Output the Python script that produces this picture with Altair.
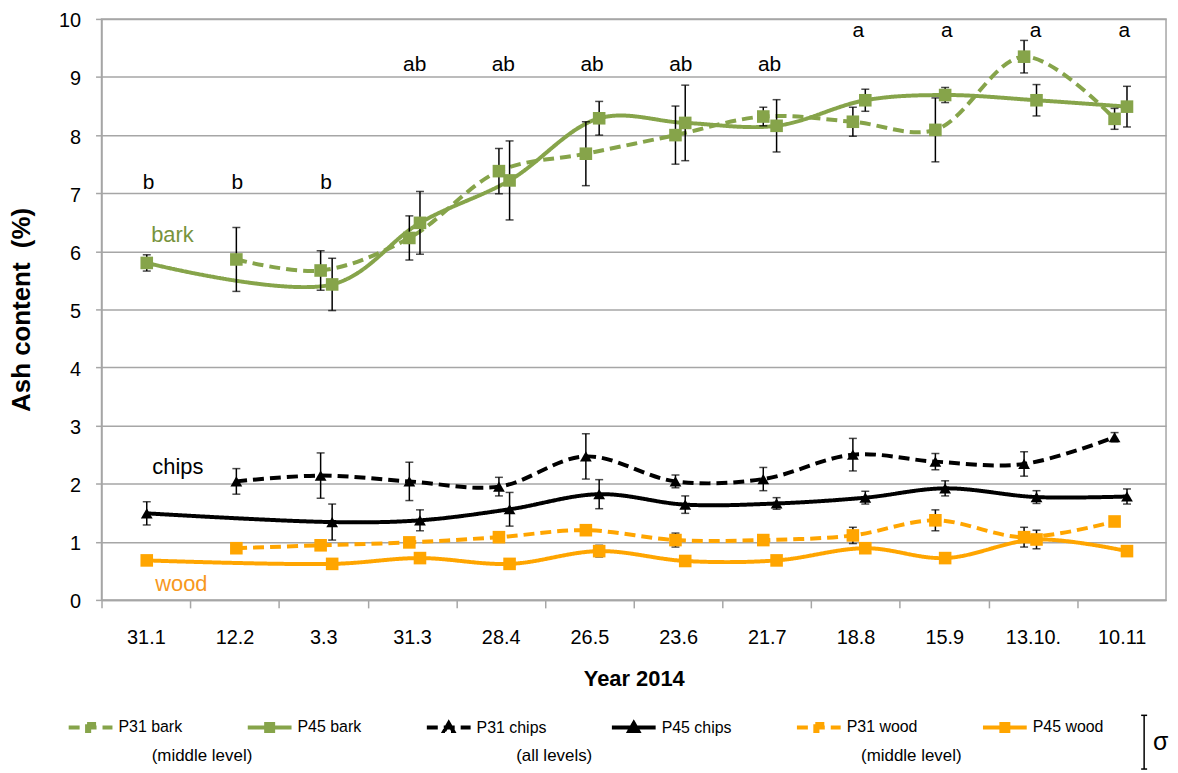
import altair as alt
import pandas as pd

# ---------------- data ----------------
dates = ["31.1", "12.2", "3.3", "31.3", "28.4", "26.5", "23.6", "21.7",
         "18.8", "15.9", "13.10.", "10.11"]
series_names = ["P31 bark", "P45 bark", "P31 chips", "P45 chips", "P31 wood", "P45 wood"]

# sampling positions on the date axis (category units)
p31_pos = [None, 1.52, 2.47, 3.47, 4.48, 5.46, 6.47, 7.46, 8.47, 9.40, 10.40, 11.42]
p45_pos = [0.51, None, 2.60, 3.59, 4.60, 5.61, 6.58, 7.61, 8.61, 9.51, 10.54, 11.56]

p31_bark = [None, 5.86, 5.67, 6.23, 7.38, 7.68, 8.00, 8.32, 8.23, 8.09, 9.35, 8.28]
p31_bark_sd = [None, 0.55, 0.34, 0.38, 0.39, 0.55, 0.50, 0.16, 0.25, 0.55, 0.28, 0.18]
p45_bark = [5.80, None, 5.43, 6.49, 7.22, 8.29, 8.21, 8.16, 8.60, 8.69, 8.60, 8.49]
p45_bark_sd = [0.14, None, 0.45, 0.54, 0.68, 0.29, 0.65, 0.45, 0.19, 0.13, 0.27, 0.35]

p31_chips = [None, 2.04, 2.14, 2.04, 1.95, 2.47, 2.04, 2.08, 2.50, 2.38, 2.34, 2.80]
p31_chips_sd = [None, 0.22, 0.39, 0.33, 0.16, 0.39, 0.11, 0.20, 0.28, 0.14, 0.21, 0.08]
p45_chips = [1.49, None, 1.34, 1.37, 1.56, 1.82, 1.64, 1.66, 1.76, 1.92, 1.77, 1.78]
p45_chips_sd = [0.20, None, 0.31, 0.18, 0.29, 0.25, 0.15, 0.10, 0.11, 0.13, 0.11, 0.13]

p31_wood = [None, 0.89, 0.94, 0.99, 1.08, 1.20, 1.03, 1.03, 1.11, 1.37, 1.08, 1.35]
p31_wood_sd = [None, 0.05, 0.05, 0.05, 0.08, 0.06, 0.12, 0.08, 0.14, 0.18, 0.17, 0.03]
p45_wood = [0.68, None, 0.62, 0.72, 0.62, 0.84, 0.67, 0.68, 0.89, 0.72, 1.04, 0.84]
p45_wood_sd = [0.05, None, 0.05, 0.08, 0.08, 0.10, 0.05, 0.05, 0.05, 0.05, 0.16, 0.05]

sig_letters = ["b", "b", "b", "ab", "ab", "ab", "ab", "ab", "a", "a", "a", "a"]
group_labels = ["bark", "chips", "wood"]
group_notes = ["(middle level)", "(all levels)", "(middle level)"]

# ---------------- styling ----------------
GREEN = "#86A44A"
ORANGE = "#FFA500"
BLACK = "#000000"
GRID = "#A6A6A6"
FONT = "Liberation Sans"
W, H = 1070, 584

series_def = [
    ("P31 bark", p31_pos, p31_bark, p31_bark_sd),
    ("P45 bark", p45_pos, p45_bark, p45_bark_sd),
    ("P31 chips", p31_pos, p31_chips, p31_chips_sd),
    ("P45 chips", p45_pos, p45_chips, p45_chips_sd),
    ("P31 wood", p31_pos, p31_wood, p31_wood_sd),
    ("P45 wood", p45_pos, p45_wood, p45_wood_sd),
]
rows = []
for name, pos, vals, sds in series_def:
    for p, v, s in zip(pos, vals, sds):
        if v is None:
            continue
        rows.append({"series": name, "pos": p, "value": v, "lo": v - s, "hi": v + s,
                     "kind": "chips" if "chips" in name else "sq"})
df = pd.DataFrame(rows)

color_scale = alt.Scale(domain=series_names,
                        range=[GREEN, GREEN, BLACK, BLACK, ORANGE, ORANGE])
dash_scale = alt.Scale(domain=series_names,
                       range=[[11, 6], [1, 0], [11, 6], [1, 0], [11, 6], [1, 0]])
sq_path = "M-1,0H1M-0.16,-0.16H0.16V0.16H-0.16Z"
tri_path = "M-1,0H1M0,-0.2L0.2,0.15H-0.2Z"
shape_scale = alt.Scale(domain=series_names,
                        range=[sq_path, sq_path, tri_path, tri_path, sq_path, sq_path])

label_expr = "[" + ",".join("'%s'" % d for d in dates) + "][floor(datum.value)]"
half_band = W / len(dates) / 2

x_axis = alt.Axis(values=[i + 0.5 for i in range(len(dates))], labelExpr=label_expr,
                  tickOffset=-half_band, labelOffset=half_band, grid=False,
                  tickSize=8, tickColor=GRID, tickWidth=1.5, domainColor=GRID, domainWidth=1.5,
                  labelFont=FONT, labelFontSize=20, labelColor="black", labelPadding=20,
                  labelFlush=False, labelOverlap=False,
                  title="Year 2014", titleFont=FONT, titleFontSize=22, titleFontWeight="bold",
                  titleColor="black", titlePadding=21)
y_axis = alt.Axis(values=list(range(11)), grid=True, gridColor=GRID, gridWidth=1.5,
                  tickSize=6, tickColor=GRID, tickWidth=1.5, domainColor=GRID, domainWidth=1.5,
                  labelFont=FONT, labelFontSize=20, labelColor="black", labelPadding=15,
                  labelOffset=2,
                  title="Ash content\u00a0 (%)", titleFont=FONT, titleFontSize=26,
                  titleFontWeight="bold", titleColor="black", titlePadding=24)


def X(field):
    return alt.X(field + ":Q", scale=alt.Scale(domain=[0, len(dates)], nice=False, zero=False),
                 axis=x_axis)


def Y(field):
    return alt.Y(field + ":Q", scale=alt.Scale(domain=[0, 10], nice=False, zero=False),
                 axis=y_axis)


base = alt.Chart(df)

# legend-only layer (invisible points, merged legend with line + marker symbols)
leg_props = dict(orient="none", legendX=-35, legendY=688, direction="horizontal", columns=6,
                 columnPadding=57, title=None, labelFont=FONT, labelFontSize=16,
                 labelColor="black", labelOffset=4, symbolSize=1936, symbolStrokeWidth=4)
legend_layer = alt.Chart(pd.DataFrame({"series": series_names})).mark_point(
    filled=True, opacity=0).encode(
    color=alt.Color("series:N", scale=color_scale, legend=alt.Legend(**leg_props)),
    stroke=alt.Stroke("series:N", scale=color_scale, legend=alt.Legend(**leg_props)),
    shape=alt.Shape("series:N", scale=shape_scale, legend=alt.Legend(**leg_props)),
    strokeDash=alt.StrokeDash("series:N", scale=dash_scale, legend=alt.Legend(**leg_props)),
)

lines = base.mark_line(interpolate="catmull-rom", strokeWidth=4, strokeCap="butt").encode(
    x=X("pos"), y=Y("value"),
    color=alt.Color("series:N", scale=color_scale, legend=None),
    strokeDash=alt.StrokeDash("series:N", scale=dash_scale, legend=None),
)

err_rule = base.mark_rule(color="black", strokeWidth=1.5).encode(
    x=X("pos"), y=Y("lo"), y2="hi:Q")
err_caps = base.transform_fold(["lo", "hi"], as_=["end", "cap"]).mark_tick(
    orient="horizontal", size=8, thickness=1.5, color="black").encode(
    x=X("pos"), y=Y("cap"))

squares = base.transform_filter(alt.datum.kind == "sq").mark_point(
    shape="square", filled=True, size=160, opacity=1).encode(
    x=X("pos"), y=Y("value"),
    color=alt.Color("series:N", scale=color_scale, legend=None),
)
triangles = base.transform_filter(alt.datum.kind == "chips").mark_point(
    shape="triangle-up", filled=True, size=140, opacity=1).encode(
    x=X("pos"), y=Y("value"),
    color=alt.Color("series:N", scale=color_scale, legend=None),
)

# significance letters above each sampling date
letter_level = {"b": 7.17, "ab": 9.2, "a": 9.8}
df_letters = pd.DataFrame({"pos": [i + 0.53 for i in range(len(dates))],
                           "ly": [letter_level[s] for s in sig_letters],
                           "txt": sig_letters})
letters = alt.Chart(df_letters).mark_text(font=FONT, fontSize=21, color="black",
                                          baseline="middle").encode(
    x=X("pos"), y=Y("ly"), text="txt:N")

# group labels inside the plot
group_pos = [(0.80, 6.28, "#77933C"), (0.86, 2.28, "black"), (0.90, 0.27, "#F7981D")]
groups = []
for (gx, gy, gc), gl in zip(group_pos, group_labels):
    groups.append(alt.Chart(pd.DataFrame({"pos": [gx], "ly": [gy], "txt": [gl]})).mark_text(
        font=FONT, fontSize=22, baseline="middle", color=gc).encode(
        x=X("pos"), y=Y("ly"), text="txt:N"))

# notes under the legend and the sigma key
df_notes = pd.DataFrame({"txt": group_notes})
note_x = [101, 455, 814]
notes = [alt.Chart(df_notes.iloc[[i]]).mark_text(font=FONT, fontSize=17, color="black",
                                                  baseline="middle").encode(
    x=alt.value(note_x[i]), y=alt.value(741), text="txt:N") for i in range(3)]

sig_df = pd.DataFrame({"txt": ["σ"]})
sig_rule = alt.Chart(sig_df).mark_rule(color="black", strokeWidth=1.5).encode(
    x=alt.value(1048), y=alt.value(700), y2=alt.value(754))
sig_cap1 = alt.Chart(sig_df).mark_rule(color="black", strokeWidth=1.5).encode(
    x=alt.value(1045), x2=alt.value(1051), y=alt.value(700))
sig_cap2 = alt.Chart(sig_df).mark_rule(color="black", strokeWidth=1.5).encode(
    x=alt.value(1045), x2=alt.value(1051), y=alt.value(754))
sig_txt = alt.Chart(sig_df).mark_text(font=FONT, fontSize=25, color="black",
                                      baseline="middle", align="left").encode(
    x=alt.value(1057), y=alt.value(727), text="txt:N")

chart = alt.layer(
    legend_layer, lines, err_rule, err_caps, squares, triangles, letters, *groups,
    *notes, sig_rule, sig_cap1, sig_cap2, sig_txt
).properties(
    width=W, height=H,
    autosize=alt.AutoSizeParams(type="none"),
    padding={"left": 94, "top": 9, "right": 4, "bottom": 170},
    background="white",
).configure_view(stroke=GRID, strokeWidth=1.5)

chart.save("out.html", embed_options={"renderer": "svg", "actions": False})
